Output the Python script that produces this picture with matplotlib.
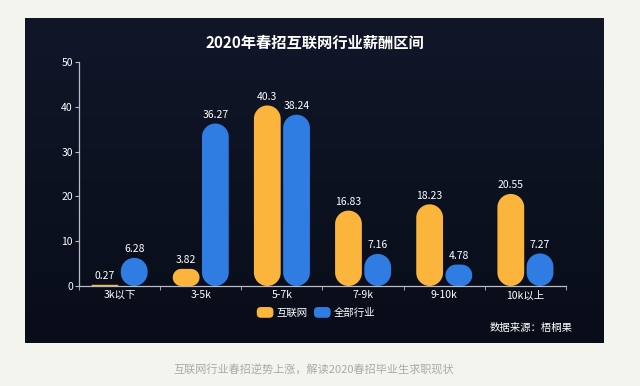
import numpy as np
import matplotlib
matplotlib.use("Agg")
import matplotlib.pyplot as plt
from matplotlib.patches import Polygon, FancyBboxPatch, Patch
from matplotlib.legend_handler import HandlerPatch

plt.rcParams['font.family'] = ['Noto Sans CJK SC', 'DejaVu Sans']

categories = ['3k以下', '3-5k', '5-7k', '7-9k', '9-10k', '10k以上']
internet = [0.27, 3.82, 40.3, 16.83, 18.23, 20.55]
all_industry = [6.28, 36.27, 38.24, 7.16, 4.78, 7.27]
series_names = ['互联网', '全部行业']
title = '2020年春招互联网行业薪酬区间'
source = '数据来源：梧桐果'
caption = '互联网行业春招逆势上涨，解读2020春招毕业生求职现状'

YELLOW = '#fbb53c'
BLUE = '#2f7ce2'
AXIS = '#b9bcc6'

W, H = 640, 386
fig = plt.figure(figsize=(W / 100, H / 100), dpi=100)
fig.patch.set_facecolor('#f3f4ee')

# dark panel with a soft vertical gradient
bg = fig.add_axes([25 / W, (H - 343) / H, 579 / W, 325 / H])
grad = np.linspace(0, 1, 256).reshape(-1, 1)
from matplotlib.colors import LinearSegmentedColormap
cmap = LinearSegmentedColormap.from_list('bg', ['#111729', '#090d19'])
bg.imshow(grad, aspect='auto', cmap=cmap, extent=[0, 1, 0, 1], origin='upper')
bg.set_axis_off()

ax = fig.add_axes([79 / W, (H - 286) / H, 487 / W, 224 / H])
ax.set_facecolor('none')
ax.set_xlim(-0.5, len(categories) - 0.5)
ax.set_ylim(0, 50)

x = np.arange(len(categories))
bw = 0.33
off = 0.18
bars1 = ax.bar(x - off, internet, bw, color=YELLOW, alpha=0)
bars2 = ax.bar(x + off, all_industry, bw, color=BLUE, alpha=0)


def capsule(rect, color):
    x0, y0 = rect.get_x(), rect.get_y()
    x1, y1 = x0 + rect.get_width(), y0 + rect.get_height()
    (px0, py0), (px1, py1) = ax.transData.transform([(x0, y0), (x1, y1)])
    r = min((px1 - px0) / 2, (py1 - py0) / 2)
    pts = []
    for cx, cy, a0 in [(px0 + r, py0 + r, 180), (px1 - r, py0 + r, 270),
                       (px1 - r, py1 - r, 0), (px0 + r, py1 - r, 90)]:
        t = np.radians(np.linspace(a0, a0 + 90, 20))
        pts += list(zip(cx + r * np.cos(t), cy + r * np.sin(t)))
    pts = ax.transData.inverted().transform(pts)
    ax.add_patch(Polygon(pts, closed=True, facecolor=color, edgecolor='none'))


for bars, col in [(bars1, YELLOW), (bars2, BLUE)]:
    for b in bars:
        capsule(b, col)
        ax.annotate(f'{b.get_height():g}', (b.get_x() + b.get_width() / 2, b.get_height()),
                    xytext=(0, 2.5), textcoords='offset points', ha='center', va='bottom',
                    color='white', fontsize=7.5)

for s in ['top', 'right']:
    ax.spines[s].set_visible(False)
for s in ['left', 'bottom']:
    ax.spines[s].set_color(AXIS)
    ax.spines[s].set_linewidth(0.9)

ax.set_yticks(range(0, 51, 10))
ax.tick_params(axis='y', colors=AXIS, labelcolor='white', labelsize=7.5, length=3, pad=1.5)
ax.set_xticks(x)
ax.set_xticklabels(categories)
ax.tick_params(axis='x', length=0, labelcolor='white', labelsize=7.5, pad=3)
ax.set_xticks(np.arange(-0.5, len(categories), 1), minor=True)
ax.tick_params(axis='x', which='minor', length=3, colors=AXIS)


class RoundHandler(HandlerPatch):
    def create_artists(self, legend, orig_handle, xdescent, ydescent, width, height, fontsize, trans):
        p = FancyBboxPatch((-xdescent, -ydescent - 1), width, height + 2,
                           boxstyle='round,pad=0,rounding_size=3',
                           facecolor=orig_handle.get_facecolor(), edgecolor='none', transform=trans)
        return [p]


handles = [Patch(facecolor=YELLOW), Patch(facecolor=BLUE)]
fig.legend(handles, series_names, loc='center', bbox_to_anchor=(316 / W, (H - 313) / H),
           ncol=2, frameon=False, fontsize=7.5, labelcolor='white', handlelength=1.6,
           handleheight=0.8, handletextpad=0.3, columnspacing=0.6,
           handler_map={Patch: RoundHandler()})

fig.text(315 / W, (H - 43) / H, title, ha='center', va='center', color='white',
         fontsize=11, fontweight='bold')
fig.text(573 / W, (H - 328) / H, source, ha='right', va='center', color='white', fontsize=7.5)
fig.text(314 / W, (H - 370) / H, caption, ha='center', va='center', color='#a9aaa6', fontsize=8)

fig.savefig('out.png', dpi=100, facecolor=fig.get_facecolor())
